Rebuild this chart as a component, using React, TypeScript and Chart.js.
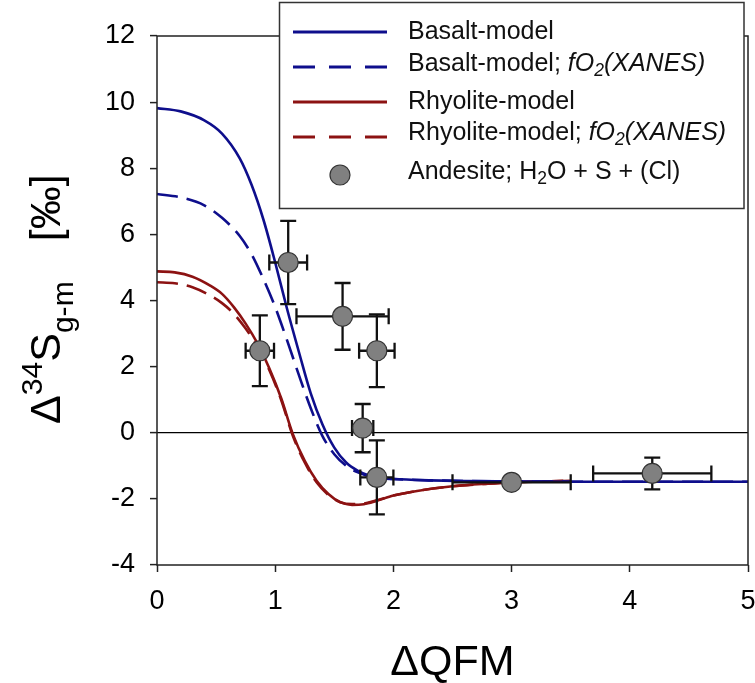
import React, { useEffect, useRef } from "react";
import { Chart, registerables } from "chart.js";

Chart.register(...registerables);

// ---------- data ----------
const basaltX = [0, 0.2, 0.4, 0.55, 0.7, 0.8, 0.9, 1.0, 1.1, 1.2, 1.3, 1.4, 1.5, 1.6, 1.7, 1.8, 1.9, 2.0, 2.3, 2.6, 3.0, 3.5, 4.0, 4.5, 5.0];
const basaltY = [9.82, 9.72, 9.45, 9.05, 8.3, 7.5, 6.45, 5.15, 3.75, 2.45, 1.2, 0.25, -0.45, -0.9, -1.15, -1.3, -1.37, -1.4, -1.44, -1.46, -1.47, -1.48, -1.48, -1.48, -1.48];

const basaltXanesX = [0, 0.2, 0.4, 0.55, 0.7, 0.8, 0.9, 1.0, 1.1, 1.2, 1.3, 1.4, 1.5, 1.6, 1.7, 1.8, 1.9, 2.0, 2.3, 2.6, 3.0, 3.5, 4.0, 4.5, 5.0];
const basaltXanesY = [7.22, 7.12, 6.88, 6.5, 5.95, 5.4, 4.65, 3.8, 2.8, 1.75, 0.75, -0.1, -0.65, -1.0, -1.2, -1.32, -1.38, -1.4, -1.44, -1.46, -1.47, -1.48, -1.48, -1.48, -1.48];

const rhyoliteX = [0, 0.15, 0.3, 0.45, 0.55, 0.65, 0.75, 0.85, 0.95, 1.05, 1.15, 1.25, 1.35, 1.45, 1.55, 1.65, 1.75, 1.85, 2.0, 2.2, 2.5, 2.8, 3.0, 3.5];
const rhyoliteY = [4.88, 4.85, 4.72, 4.45, 4.2, 3.8, 3.3, 2.7, 1.95, 1.05, -0.05, -0.85, -1.45, -1.85, -2.1, -2.18, -2.16, -2.07, -1.9, -1.76, -1.62, -1.54, -1.5, -1.45];

const rhyoliteXanesX = [0, 0.15, 0.3, 0.45, 0.55, 0.65, 0.75, 0.85, 0.95, 1.05, 1.15, 1.25, 1.35, 1.45, 1.55, 1.65, 1.75, 1.85, 2.0, 2.2, 2.5, 2.8, 3.0, 3.5];
const rhyoliteXanesY = [4.55, 4.52, 4.4, 4.15, 3.92, 3.6, 3.15, 2.6, 1.9, 1.0, -0.1, -0.9, -1.5, -1.88, -2.1, -2.16, -2.14, -2.05, -1.9, -1.76, -1.62, -1.54, -1.5, -1.45];

const andesiteX = [0.87, 1.11, 1.57, 1.86, 1.74, 1.86, 3.0, 4.19];
const andesiteY = [2.48, 5.15, 3.52, 2.48, 0.14, -1.35, -1.5, -1.23];
const andesiteXErr = [0.12, 0.16, 0.39, 0.15, 0.09, 0.14, 0.5, 0.5];
const andesiteYErr = [1.07, 1.26, 1.01, 1.1, 0.73, 1.12, 0, 0.48];

const xTickValues = [0, 1, 2, 3, 4, 5];
const yTickValues = [-4, -2, 0, 2, 4, 6, 8, 10, 12];

// ---------- styles ----------
const BLUE = "#0e0e8c";
const RED = "#8c1212";
const FAM = "'Liberation Sans', Arial, sans-serif";

type Seg = { t: string; italic?: boolean; sub?: boolean; sup?: boolean };

const legendRows: { kind: "solid" | "dashed" | "marker"; color: string; segs: Seg[] }[] = [
  { kind: "solid", color: BLUE, segs: [{ t: "Basalt-model" }] },
  {
    kind: "dashed",
    color: BLUE,
    segs: [{ t: "Basalt-model; " }, { t: "fO", italic: true }, { t: "2", italic: true, sub: true }, { t: "(XANES)", italic: true }],
  },
  { kind: "solid", color: RED, segs: [{ t: "Rhyolite-model" }] },
  {
    kind: "dashed",
    color: RED,
    segs: [{ t: "Rhyolite-model; " }, { t: "fO", italic: true }, { t: "2", italic: true, sub: true }, { t: "(XANES)", italic: true }],
  },
  { kind: "marker", color: "#808080", segs: [{ t: "Andesite; H" }, { t: "2", sub: true }, { t: "O + S + (Cl)" }] },
];

const yTitleSegs: Seg[] = [{ t: "\u0394" }, { t: "34", sup: true }, { t: "S" }, { t: "g-m", sub: true }];
const yTitleUnit = "[\u2030]";
const xTitle = "\u0394QFM";

function drawRich(ctx: CanvasRenderingContext2D, segs: Seg[], x: number, y: number, size: number, subRatio = 0.68) {
  let cx = x;
  for (const s of segs) {
    const small = s.sub || s.sup;
    const fs = small ? size * subRatio : size;
    ctx.font = `${s.italic ? "italic " : ""}${fs}px ${FAM}`;
    const dy = s.sub ? size * 0.3 : s.sup ? -size * 0.42 : 0;
    ctx.fillText(s.t, cx, y + dy);
    cx += ctx.measureText(s.t).width;
  }
  return cx;
}

const pts = (xs: number[], ys: number[]) => xs.map((x, i) => ({ x, y: ys[i] }));

export default function App() {
  const ref = useRef<HTMLCanvasElement | null>(null);

  useEffect(() => {
    const canvas = ref.current;
    if (!canvas) return;

    const errorBars = {
      id: "errorBars",
      beforeDatasetDraw(chart: any, args: any) {
        if (args.index !== 0) return;
        const { ctx } = chart;
        const xs = chart.scales.x;
        const ys = chart.scales.y;
        const cap = 8;
        ctx.save();
        ctx.strokeStyle = "#111";
        ctx.lineWidth = 2.3;
        andesiteX.forEach((xv, i) => {
          const yv = andesiteY[i];
          const px = xs.getPixelForValue(xv);
          const py = ys.getPixelForValue(yv);
          const xe = andesiteXErr[i];
          const ye = andesiteYErr[i];
          ctx.beginPath();
          if (xe > 0) {
            const l = xs.getPixelForValue(xv - xe);
            const r = xs.getPixelForValue(xv + xe);
            ctx.moveTo(l, py);
            ctx.lineTo(r, py);
            ctx.moveTo(l, py - cap);
            ctx.lineTo(l, py + cap);
            ctx.moveTo(r, py - cap);
            ctx.lineTo(r, py + cap);
          }
          if (ye > 0) {
            const t = ys.getPixelForValue(yv + ye);
            const b = ys.getPixelForValue(yv - ye);
            ctx.moveTo(px, t);
            ctx.lineTo(px, b);
            ctx.moveTo(px - cap, t);
            ctx.lineTo(px + cap, t);
            ctx.moveTo(px - cap, b);
            ctx.lineTo(px + cap, b);
          }
          ctx.stroke();
        });
        ctx.restore();
      },
    };

    const decor = {
      id: "decor",
      afterDatasetsDraw(chart: any) {
        const { ctx, chartArea: a } = chart;
        ctx.save();
        ctx.strokeStyle = "#222";
        ctx.lineWidth = 1.5;
        ctx.strokeRect(a.left, a.top, a.right - a.left, a.bottom - a.top);
        ctx.restore();
      },
      afterDraw(chart: any) {
        const { ctx, chartArea: a } = chart;
        ctx.save();
        // x title
        ctx.fillStyle = "#000";
        ctx.font = `43px ${FAM}`;
        ctx.textAlign = "center";
        ctx.textBaseline = "alphabetic";
        ctx.fillText(xTitle, (a.left + a.right) / 2, a.bottom + 110);

        // y title (rotated)
        ctx.save();
        ctx.translate(60, 424);
        ctx.rotate(-Math.PI / 2);
        ctx.textAlign = "left";
        ctx.textBaseline = "alphabetic";
        const end = drawRich(ctx, yTitleSegs, 0, 0, 43, 0.7);
        ctx.font = `43px ${FAM}`;
        ctx.fillText(yTitleUnit, end + 40, 0);
        ctx.restore();

        // legend box
        const bx = 279.5, by = 2.5, bw = 464.5, bh = 206;
        ctx.fillStyle = "#fff";
        ctx.fillRect(bx, by, bw, bh);
        ctx.strokeStyle = "#333";
        ctx.lineWidth = 1.5;
        ctx.strokeRect(bx, by, bw, bh);

        const lineYs = [32, 67, 102, 137, 175];
        const textYs = [32, 64, 102, 133, 172];
        legendRows.forEach((row, i) => {
          const ly = lineYs[i];
          if (row.kind === "marker") {
            ctx.beginPath();
            ctx.arc(340, ly, 10, 0, Math.PI * 2);
            ctx.fillStyle = row.color;
            ctx.fill();
            ctx.strokeStyle = "#333";
            ctx.lineWidth = 1.2;
            ctx.stroke();
          } else {
            ctx.beginPath();
            ctx.strokeStyle = row.color;
            ctx.lineWidth = 2.8;
            ctx.setLineDash(row.kind === "dashed" ? [22, 14] : []);
            ctx.moveTo(293, ly);
            ctx.lineTo(387, ly);
            ctx.stroke();
            ctx.setLineDash([]);
          }
          ctx.fillStyle = "#111";
          ctx.textAlign = "left";
          ctx.textBaseline = "middle";
          drawRich(ctx, row.segs, 408, textYs[i], 25, 0.7);
        });
        ctx.restore();
      },
    };

    const lineDs = (xs: number[], ys: number[], color: string, dashed: boolean) => ({
      type: "scatter" as const,
      data: pts(xs, ys),
      showLine: true,
      borderColor: color,
      backgroundColor: color,
      borderWidth: 2.6,
      borderDash: dashed ? [21, 9] : [],
      pointRadius: 0,
      cubicInterpolationMode: "monotone" as const,
    });

    const chart = new Chart(canvas, {
      type: "scatter",
      data: {
        datasets: [
          {
            label: "Andesite",
            data: pts(andesiteX, andesiteY),
            pointRadius: 10,
            pointHoverRadius: 10,
            backgroundColor: "#808080",
            borderColor: "#333",
            borderWidth: 1.2,
          } as any,
          lineDs(basaltX, basaltY, BLUE, false),
          lineDs(basaltXanesX, basaltXanesY, BLUE, true),
          lineDs(rhyoliteX, rhyoliteY, RED, false),
          lineDs(rhyoliteXanesX, rhyoliteXanesY, RED, true),
        ],
      },
      options: {
        responsive: false,
        animation: false,
        events: [],
        layout: { autoPadding: false, padding: { top: 36, right: 7, left: 0, bottom: 0 } },
        plugins: { legend: { display: false }, tooltip: { enabled: false } },
        scales: {
          x: {
            type: "linear",
            min: 0,
            max: 5,
            afterBuildTicks: (s: any) => {
              s.ticks = xTickValues.map((v) => ({ value: v }));
            },
            afterFit: (s: any) => {
              s.height = 118;
              s.paddingLeft = 0;
              s.paddingRight = 0;
            },
            ticks: { color: "#000", font: { size: 27, family: FAM }, padding: 13 },
            grid: { drawOnChartArea: false, drawTicks: true, tickLength: 7, tickColor: "#222", tickWidth: 1.5 },
            border: { display: false },
          },
          y: {
            type: "linear",
            min: -4,
            max: 12,
            afterBuildTicks: (s: any) => {
              s.ticks = yTickValues.map((v) => ({ value: v }));
            },
            afterFit: (s: any) => {
              s.width = 157;
              s.paddingTop = 0;
              s.paddingBottom = 0;
            },
            ticks: { color: "#000", font: { size: 27, family: FAM }, padding: 15 },
            grid: {
              drawOnChartArea: true,
              color: (c: any) => (c.tick && c.tick.value === 0 ? "#000" : "rgba(0,0,0,0)"),
              lineWidth: 1.2,
              tickLength: 7,
              tickColor: "#222",
              tickWidth: 1.5,
            },
            border: { display: false },
          },
        },
      },
      plugins: [errorBars, decor],
    } as any);

    return () => chart.destroy();
  }, []);

  return (
    <div style={{ position: "absolute", left: 0, top: 0, width: 755, height: 683, background: "#fff" }}>
      <canvas ref={ref} width={755} height={683} style={{ display: "block" }} />
    </div>
  );
}
